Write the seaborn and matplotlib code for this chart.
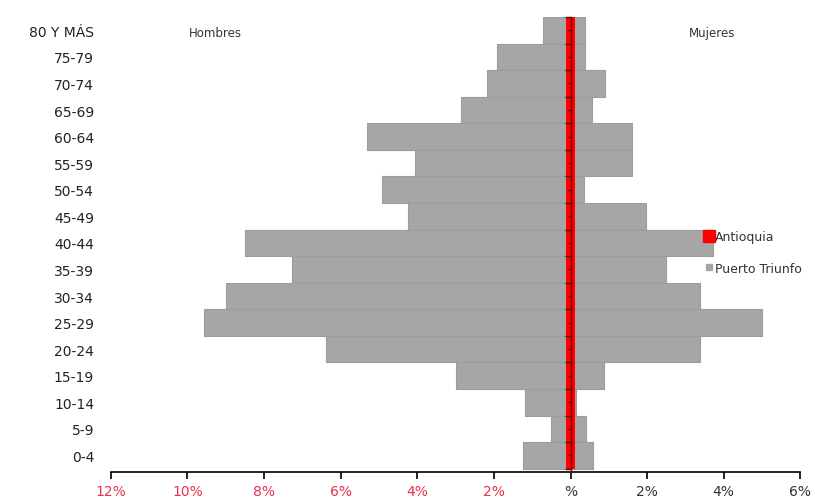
import matplotlib
matplotlib.use("Agg")
import matplotlib.pyplot as plt
from matplotlib.lines import Line2D
from matplotlib.ticker import FixedLocator
import seaborn as sns
import pandas as pd

sns.set_theme(style="white")
plt.rcParams['font.family'] = ['DejaVu Sans']

ages = ["80 Y MÁS", "75-79", "70-74", "65-69", "60-64", "55-59", "50-54", "45-49",
        "40-44", "35-39", "30-34", "25-29", "20-24", "15-19", "10-14", "5-9", "0-4"]
pt_hombres = [0.73, 1.93, 2.17, 2.87, 5.3, 4.07, 4.93, 4.23,
              8.51, 7.26, 9.0, 9.58, 6.37, 3.0, 1.2, 0.5, 1.23]
pt_mujeres = [0.39, 0.37, 0.89, 0.57, 1.6, 1.6, 0.34, 1.96,
              3.73, 2.5, 3.37, 5.0, 3.37, 0.87, 0.15, 0.4, 0.6]
ant_hombres = [0.11] * 17
ant_mujeres = [0.13] * 17
xticks = [-12, -10, -8, -6, -4, -2, 0, 2, 4, 6]
xlabels = ["12%", "10%", "8%", "6%", "4%", "2%", "%", "2%", "4%", "6%"]

gray = "#a6a6a6"
red = "#ff0000"

df = pd.DataFrame({"edad": ages,
                   "ph": [-v for v in pt_hombres], "pm": pt_mujeres,
                   "ah": [-v for v in ant_hombres], "am": ant_mujeres})

fig = plt.figure(figsize=(8.15, 5.02), dpi=100)
ax = fig.add_axes([0.136, 0.058, 0.846, 0.906])

sns.barplot(data=df, y="edad", x="ph", order=ages, orient="h", color=gray,
            width=1.0, edgecolor="#9c9c9c", linewidth=0.8, saturation=1, ax=ax)
sns.barplot(data=df, y="edad", x="pm", order=ages, orient="h", color=gray,
            width=1.0, edgecolor="#9c9c9c", linewidth=0.8, saturation=1, ax=ax)
sns.barplot(data=df, y="edad", x="ah", order=ages, orient="h", color=red,
            width=1.0, linewidth=0, saturation=1, ax=ax)
sns.barplot(data=df, y="edad", x="am", order=ages, orient="h", color=red,
            width=1.0, linewidth=0, saturation=1, ax=ax)

ax.set_xlim(-12, 6)
ax.set_ylim(16.62, -0.5)
ax.set_xlabel("")
ax.set_ylabel("")

for s in ["top", "right", "left"]:
    ax.spines[s].set_visible(False)
ax.spines["bottom"].set_color("black")
ax.spines["bottom"].set_linewidth(1.2)

ax.set_xticks(xticks)
ax.set_xticklabels(xlabels, fontsize=10)
ax.tick_params(axis="x", direction="out", length=5, width=1.2, color="black",
               bottom=True, pad=4)
for lab, v in zip(ax.get_xticklabels(), xticks):
    lab.set_color("#e8304f" if v < 0 else "#333333")

ax.tick_params(axis="y", length=0, pad=12, labelsize=10, labelcolor="#222222")

# central axis at zero with tick marks
ax2 = ax.twinx()
ax2.set_ylim(ax.get_ylim())
for s in ["top", "right", "bottom"]:
    ax2.spines[s].set_visible(False)
ax2.spines["left"].set_position(("data", 0))
ax2.spines["left"].set_color("#7a0000")
ax2.spines["left"].set_linewidth(1.0)
ax2.spines["left"].set_bounds(-0.5, 16.62)
ax2.yaxis.set_ticks_position("left")
ax2.yaxis.set_major_locator(FixedLocator([i - 0.5 for i in range(18)]))
ax2.yaxis.set_minor_locator(FixedLocator([i for i in range(17)]))
ax2.tick_params(axis="y", which="major", length=4, width=1, color="#222222",
                labelleft=False, labelright=False, direction="out")
ax2.tick_params(axis="y", which="minor", length=2, width=1, color="#222222",
                left=True, direction="out")
ax2.grid(False)

ax.text(0.151, 0.967, "Hombres", transform=ax.transAxes, ha="center", va="center",
        fontsize=8.5, color="#333333")
ax.text(0.872, 0.967, "Mujeres", transform=ax.transAxes, ha="center", va="center",
        fontsize=8.5, color="#333333")

handles = [Line2D([], [], marker="s", ls="", color=red, markersize=8),
           Line2D([], [], marker="s", ls="", color=gray, markersize=5)]
ax2.legend(handles, ["Antioquia", "Puerto Triunfo"], loc="upper left",
           bbox_to_anchor=(0.861, 0.532), frameon=False, fontsize=9,
           handlelength=0.7, handletextpad=0.15, labelspacing=1.5,
           borderpad=0, borderaxespad=0, labelcolor="#333333")

fig.savefig("out.png", dpi=100)
